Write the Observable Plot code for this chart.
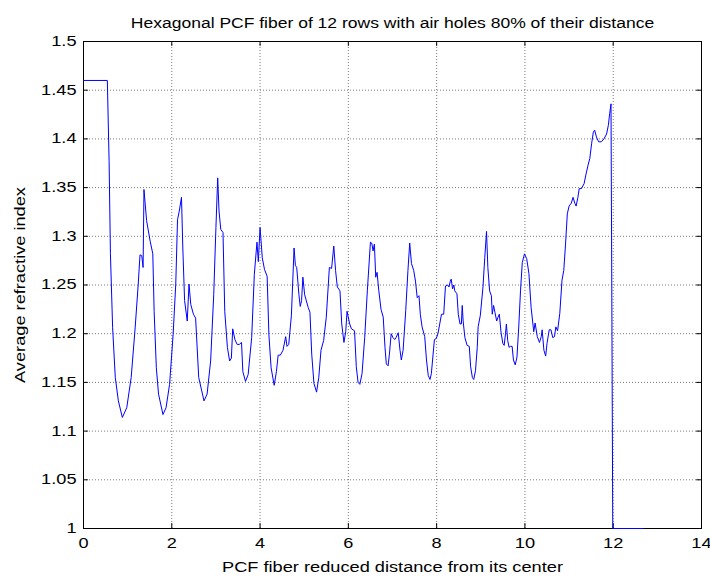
<!DOCTYPE html>
<html><head><meta charset="utf-8">
<script src="https://cdn.jsdelivr.net/npm/d3@7"></script>
<script src="https://cdn.jsdelivr.net/npm/@observablehq/plot@0.6"></script>
<style>
html,body{margin:0;padding:0;background:#fff;}
#chart svg{display:block;}
</style>
</head><body><div id="chart"></div>
<script>
const title = "Hexagonal PCF fiber of 12 rows with air holes 80% of their distance";
const xLabel = "PCF fiber reduced distance from its center";
const yLabel = "Average refractive index";
const xTicks = [0, 2, 4, 6, 8, 10, 12, 14];
const yTicks = [1, 1.05, 1.1, 1.15, 1.2, 1.25, 1.3, 1.35, 1.4, 1.45, 1.5];

const distance = [
 0,0.54,0.58,0.61,0.66,0.72,0.79,0.88,0.98,1.08,1.17,1.24,1.28,1.32,1.35,1.37,1.43,1.51,1.57,1.60,
 1.65,1.70,1.80,1.87,1.95,2.03,2.09,2.13,2.17,2.22,2.25,2.29,2.35,2.39,2.43,2.49,2.54,2.61,2.73,2.80,
 2.88,2.95,3.00,3.04,3.07,3.11,3.16,3.20,3.26,3.31,3.35,3.38,3.43,3.48,3.53,3.58,3.61,3.67,3.73,3.81,
 3.87,3.93,3.96,4.00,4.05,4.10,4.16,4.20,4.25,4.32,4.37,4.41,4.46,4.52,4.58,4.61,4.65,4.71,4.77,4.80,
 4.83,4.88,4.91,4.94,4.97,5.01,5.09,5.13,5.17,5.22,5.28,5.33,5.38,5.44,5.50,5.57,5.62,5.67,5.71,5.75,
 5.81,5.85,5.90,5.94,5.97,6.03,6.07,6.14,6.18,6.22,6.26,6.31,6.37,6.43,6.50,6.53,6.56,6.59,6.62,6.65,
 6.69,6.74,6.79,6.83,6.86,6.90,6.93,6.97,7.01,7.05,7.08,7.13,7.17,7.20,7.24,7.30,7.35,7.39,7.43,7.48,
 7.52,7.56,7.60,7.63,7.67,7.73,7.77,7.81,7.85,7.88,7.92,7.95,7.99,8.03,8.07,8.11,8.16,8.20,8.25,8.28,
 8.31,8.33,8.36,8.39,8.41,8.46,8.49,8.53,8.56,8.58,8.60,8.64,8.69,8.74,8.77,8.81,8.84,8.88,8.92,8.94,
 8.99,9.05,9.09,9.13,9.16,9.20,9.24,9.26,9.29,9.32,9.36,9.39,9.42,9.46,9.50,9.53,9.56,9.58,9.61,9.64,
 9.67,9.71,9.74,9.78,9.82,9.86,9.90,9.94,9.99,10.04,10.09,10.14,10.20,10.23,10.28,10.33,10.37,10.39,10.43,10.47,
 10.50,10.55,10.59,10.63,10.67,10.70,10.74,10.79,10.84,10.88,10.92,10.96,11.00,11.05,11.09,11.13,11.16,11.20,11.23,11.28,
 11.34,11.38,11.43,11.47,11.51,11.55,11.58,11.62,11.67,11.73,11.79,11.85,11.89,11.92,11.95,11.99,12.68
];
const refractiveIndex = [
 1.46,1.46,1.377,1.282,1.206,1.155,1.131,1.114,1.124,1.155,1.206,1.251,1.281,1.28,1.268,1.348,1.316,1.295,1.282,1.223,
 1.165,1.138,1.117,1.124,1.148,1.199,1.251,1.317,1.326,1.34,1.288,1.234,1.213,1.251,1.230,1.22,1.216,1.155,1.131,1.138,
 1.172,1.24,1.309,1.36,1.326,1.307,1.304,1.223,1.186,1.172,1.175,1.205,1.194,1.189,1.189,1.191,1.161,1.151,1.158,1.196,
 1.261,1.294,1.274,1.309,1.278,1.266,1.259,1.199,1.165,1.147,1.161,1.178,1.178,1.183,1.197,1.187,1.189,1.219,1.288,1.27,
 1.268,1.24,1.228,1.234,1.258,1.24,1.227,1.222,1.179,1.149,1.14,1.155,1.183,1.193,1.217,1.268,1.267,1.29,1.265,1.248,
 1.244,1.21,1.191,1.202,1.223,1.21,1.205,1.203,1.166,1.15,1.148,1.159,1.196,1.244,1.294,1.293,1.285,1.292,1.258,1.263,
 1.244,1.225,1.217,1.186,1.169,1.167,1.179,1.2,1.196,1.194,1.196,1.201,1.183,1.173,1.183,1.224,1.265,1.293,1.272,1.265,
 1.254,1.237,1.239,1.22,1.207,1.197,1.173,1.157,1.153,1.159,1.179,1.194,1.195,1.2,1.21,1.22,1.22,1.249,1.25,1.248,
 1.254,1.256,1.246,1.25,1.244,1.241,1.22,1.21,1.21,1.229,1.213,1.196,1.188,1.187,1.166,1.155,1.153,1.162,1.186,1.207,
 1.219,1.248,1.278,1.305,1.268,1.244,1.239,1.22,1.229,1.222,1.213,1.217,1.22,1.201,1.19,1.188,1.2,1.21,1.193,1.186,
 1.187,1.187,1.173,1.168,1.176,1.207,1.244,1.273,1.282,1.277,1.262,1.227,1.202,1.211,1.197,1.191,1.197,1.204,1.183,1.177,
 1.19,1.204,1.204,1.196,1.197,1.207,1.203,1.221,1.255,1.265,1.292,1.323,1.331,1.334,1.34,1.334,1.331,1.34,1.349,1.349,
 1.354,1.363,1.373,1.38,1.395,1.407,1.409,1.402,1.397,1.397,1.40,1.405,1.414,1.426,1.436,1.0,1.0
];

const points = distance.map((d, i) => ({x: d, y: refractiveIndex[i]}));
const fmt = d => String(+d.toFixed(2));
const gridStyle = {stroke: "#7a7a7a", strokeOpacity: 1, strokeDasharray: "1,2"};

const chart = Plot.plot({
  width: 710,
  height: 579,
  marginLeft: 83,
  marginRight: 9,
  marginTop: 41,
  marginBottom: 51,
  style: {fontFamily: "'Liberation Sans', Arial, sans-serif", fontSize: "14px", color: "#000", background: "#fff"},
  x: {domain: [0, 14]},
  y: {domain: [1, 1.5]},
  marks: [
    Plot.gridX(xTicks, gridStyle),
    Plot.gridY(yTicks, gridStyle),
    Plot.ruleX(xTicks, {x: d => d, y1: 1, y2: 1.005, stroke: "#000"}),
    Plot.ruleX(xTicks, {x: d => d, y1: 1.495, y2: 1.5, stroke: "#000"}),
    Plot.ruleY(yTicks, {y: d => d, x1: 0, x2: 0.11, stroke: "#000"}),
    Plot.ruleY(yTicks, {y: d => d, x1: 13.89, x2: 14, stroke: "#000"}),
    Plot.frame({stroke: "#000"}),
    Plot.line(points, {x: "x", y: "y", stroke: "#0000ff", strokeWidth: 1}),
    Plot.axisX(xTicks, {tickSize: 0, tickPadding: 10, fontSize: 14, tickFormat: fmt, label: null}),
    Plot.axisY(yTicks, {tickSize: 0, tickPadding: 7, fontSize: 14, tickFormat: fmt, label: null}),
    Plot.text([xLabel], {frameAnchor: "bottom", dy: 43, textAnchor: "middle", fontSize: 14, fill: "#000", text: d => d}),
    Plot.text([yLabel], {frameAnchor: "left", dx: -63, rotate: -90, textAnchor: "middle", fontSize: 14, fill: "#000", text: d => d}),
    Plot.text([title], {frameAnchor: "top", dy: -23, textAnchor: "middle", fontSize: 14, fill: "#000", text: d => d})
  ]
});
document.getElementById("chart").appendChild(chart);

// widen glyphs to match the reference's broad rendering
chart.querySelectorAll("text").forEach(t => {
  const s = t.textContent;
  const len = t.getComputedTextLength();
  if (!len) return;
  const k = s === title ? 1.25 : 1.3;
  t.setAttribute("textLength", (len * k).toFixed(1));
  t.setAttribute("lengthAdjust", "spacingAndGlyphs");
});
</script>
</body></html>
